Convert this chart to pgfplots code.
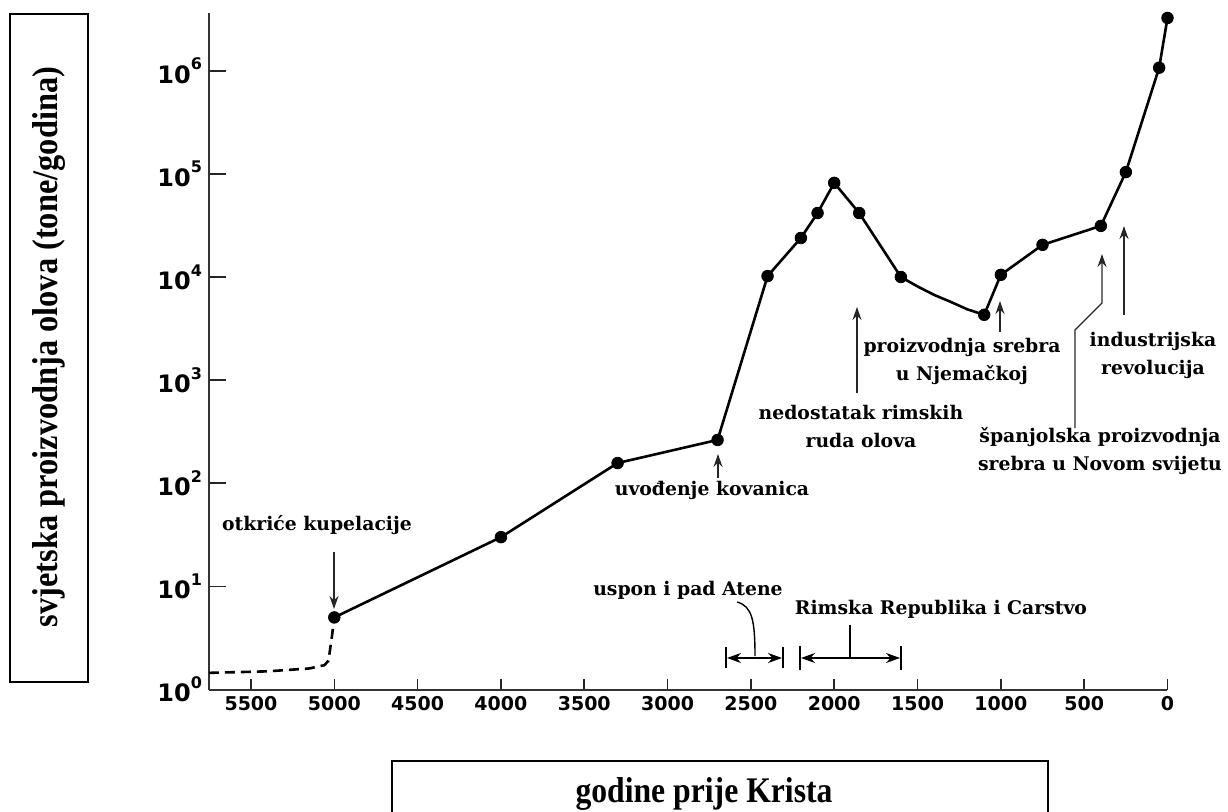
\documentclass[border=0pt]{standalone}
\usepackage{pgfplots}
\pgfplotsset{compat=1.18}
\usepackage{graphicx}
\usepackage{fontspec}
\setmainfont{Liberation Serif}
\newfontfamily\tickfont{DejaVu Sans}
\newfontfamily\annfont{DejaVu Serif}
\usetikzlibrary{arrows.meta}
\newcommand\tp[1]{10\raisebox{0.55em}{\fontsize{8}{8}\selectfont #1}}
\begin{document}
\begin{tikzpicture}
\begin{axis}[
  at={(104.5pt,60.75pt)}, anchor=south west,
  scale only axis, width=479.25pt, height=338.25pt,
  xmin=0, xmax=5752, x dir=reverse,
  ymode=log, ymin=1, ymax=3.63e6,
  axis x line*=bottom, axis y line*=left,
  axis line style={line width=1pt, black!80},
  tick align=inside,
  xtick={0,500,1000,1500,2000,2500,3000,3500,4000,4500,5000,5500},
  xticklabels={0,500,1000,1500,2000,2500,3000,3500,4000,4500,5000,5500},
  ytick={1,10,100,1000,10000,100000,1000000},
  yticklabels={\tp{0},\tp{1},\tp{2},\tp{3},\tp{4},\tp{5},\tp{6}},
  minor tick style={draw=none},
  xticklabel style={font=\tickfont\bfseries\fontsize{9.5}{10}\selectfont},
  yticklabel style={font=\tickfont\bfseries\fontsize{12}{12}\selectfont},
  tick style={black!85, line width=0.8pt},
  major tick length=8.5pt,
  xtick style={/pgfplots/major tick length=5.5pt},
  clip=false,
]
\addplot[black, line width=1.3pt, dash pattern=on 5pt off 3pt] coordinates {
  (5752,1.45) (5400,1.5) (5150,1.6) (5060,1.72) (5035,1.9) (5015,3.2) (5000,5)};
\addplot[black, line width=1.3pt, line join=round] coordinates {
  (5000,5) (4000,30) (3300,157) (2700,263) (2400,10200) (2200,23900)
  (2100,41700) (2000,81800) (1850,41700) (1600,10000) (1500,8100)
  (1400,6700) (1300,5730) (1200,4850)
  (1100,4300) (1000,10500) (750,20500) (400,31300) (250,104000)
  (50,1.07e6) (0,3.25e6)};
\addplot[black, only marks, mark=*, mark size=2.9pt] coordinates {
  (5000,5) (4000,30) (3300,157) (2700,263) (2400,10200) (2200,23900)
  (2100,41700) (2000,81800) (1850,41700) (1600,10000)
  (1100,4300) (1000,10500) (750,20500) (400,31300) (250,104000)
  (50,1.07e6) (0,3.25e6)};
\end{axis}
\begin{scope}[x=0.5pt,y=-0.5pt,shift={(0pt,405.5pt)}]
\tikzset{ann/.style={font=\annfont\bfseries\fontsize{9.4}{14}\selectfont, align=center, inner sep=0pt},
  ar/.style={line width=0.7pt, black!85, -{Stealth[length=6.5pt,width=4.5pt]}}}
\node[ann] at (317,525) {otkriće kupelacije};
\node[ann] at (712,490) {uvođenje kovanica};
\node[ann] at (861,426) {nedostatak rimskih\\ruda olova};
\node[ann] at (962,361) {proizvodnja srebra\\u Njemačkoj};
\node[ann] at (1100,451) {španjolska proizvodnja\\srebra u Novom svijetu};
\node[ann] at (1153,355) {industrijska\\revolucija};
\node[ann] at (688,590) {uspon i pad Atene};
\node[ann] at (941,609) {Rimska Republika i Carstvo};
\draw[ar] (334,552) -- (334,609);
\draw[ar] (718,478) -- (718,454);
\draw[ar] (857,393) -- (857,307);
\draw[ar] (1000,332) -- (1000,301);
\draw[ar] (1075,428) -- (1075,330) -- (1102,303) -- (1102,254);
\draw[ar] (1124,315) -- (1124,226);
% Athens
\draw[line width=0.8pt] (726,647) -- (726,668) (783,647) -- (783,668);
\draw[line width=0.8pt, {Stealth[length=7pt,width=5pt]}-{Stealth[length=7pt,width=5pt]}] (727,658) -- (782,658);
\draw[line width=0.7pt] (737,602) .. controls (752,606) and (755,620) .. (755,656);
% Rome
\draw[line width=0.8pt] (800,646) -- (800,670) (901,646) -- (901,670);
\draw[line width=0.8pt, {Stealth[length=7pt,width=5pt]}-{Stealth[length=7pt,width=5pt]}] (801,658) -- (900,658);
\draw[line width=0.7pt] (850,658) -- (850,625);
% axis label boxes
\draw[line width=0.9pt] (10,14) rectangle (88,682);
\node[rotate=90, font=\bfseries\fontsize{18}{20}\selectfont, inner sep=0pt] at (49,347) {\scalebox{0.9}[1]{svjetska proizvodnja olova (tone/godina)}};
\draw[line width=0.9pt] (392,830) -- (392,761) -- (1048,761) -- (1048,830);
\node[anchor=base, font=\bfseries\fontsize{18}{20}\selectfont, inner sep=0pt] at (704,802) {\scalebox{0.88}[1]{godine prije Krista}};
\end{scope}
\pgfresetboundingbox
\useasboundingbox (0pt,0pt) rectangle (614pt,405.5pt);
\end{tikzpicture}
\end{document}
